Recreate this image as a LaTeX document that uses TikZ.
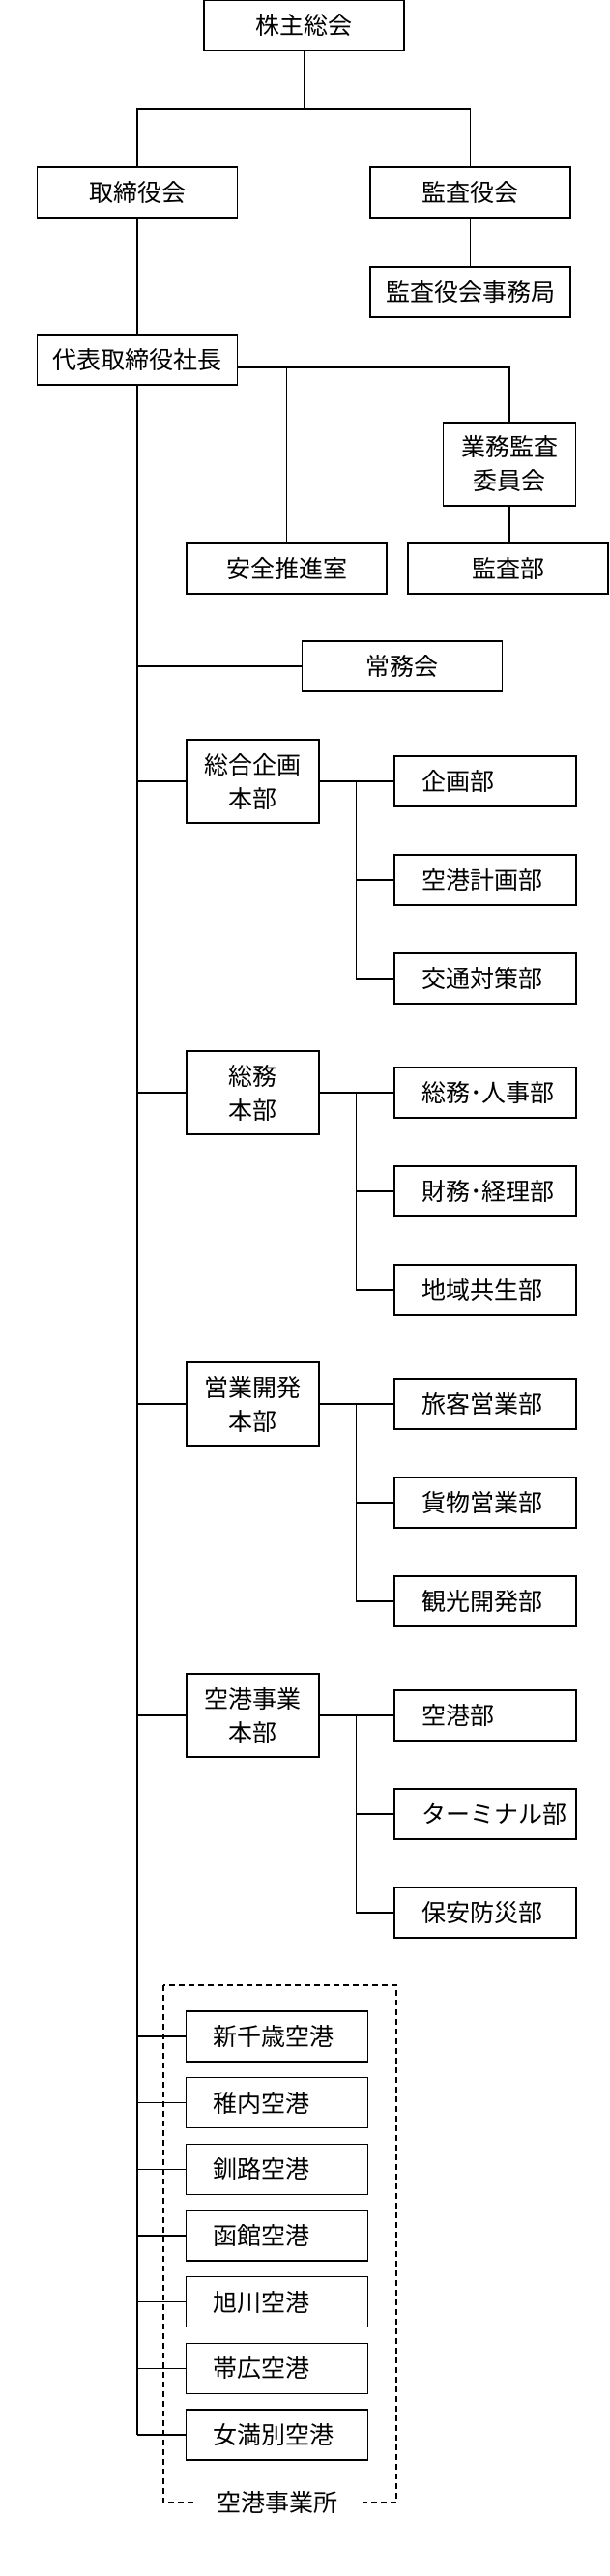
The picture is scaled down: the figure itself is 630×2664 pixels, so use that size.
\documentclass[tikz,border=0pt]{standalone}
\usepackage{fontspec}
\setmainfont{Noto Sans CJK JP}
\tikzset{
  box/.style={draw, line width=1.4pt, inner sep=0pt, minimum height=52pt, font=\fontsize{25}{35}\selectfont},
  topbox/.style={box, minimum width=207pt},
  hbox/.style={box, minimum width=137pt, minimum height=86pt, align=center},
  kobox/.style={box, text width=132pt, inner xsep=28pt, align=left},
  conn/.style={line width=1.4pt},
  jigyo/.style={draw, line width=1.2pt, dash pattern=on 6pt off 4pt}
}
\NewDocumentCommand{\honbu}{mmmmmm}{%
\begin{scope}[shift={(0,#2)}]%
\node[hbox] (h#1) at (261.5,0) {#3};
\node[kobox] (h#1a) at (502,0) {#4};
\node[kobox] (h#1b) at (502,102) {#5};
\node[kobox] (h#1c) at (502,204) {#6};
\draw[conn] (shacho.south |- h#1.west) -- (h#1.west);
\draw[conn] (h#1.east) -- (h#1a.west);
\draw[conn] ([xshift=-39pt]h#1a.west) |- (h#1c.west);
\draw[conn] ([xshift=-39pt]h#1b.west) -- (h#1b.west);
\end{scope}%
}

\begin{document}
\begin{tikzpicture}[x=1pt,y=-1pt]
        \useasboundingbox (0,0) rectangle (630,2664);

        % top
        \node[topbox] (kabunushi) at (314.5,26.5) {株主総会};
        \node[topbox] (torishimari) at (142,199) {取締役会};
        \node[topbox] (kansayaku) at (486.5,199) {監査役会};
        \node[topbox] (kjimu) at (486.5,302) {監査役会事務局};
        \coordinate (kb) at (314.5,113);
        \draw[conn] (kabunushi) -- (kb);
        \draw[conn] (torishimari.north) |- (kb) -| (kansayaku.north);
        \draw[conn] (kansayaku) -- (kjimu);

        % shacho
        \node[topbox] (shacho) at (142,372) {代表取締役社長};
        \draw[conn] (torishimari) -- (shacho);
        \node[hbox] (gyomu) at (527,480) {業務監査\\委員会};
        \node[topbox] (anzen) at (296.5,588) {安全推進室};
        \node[topbox] (kansabu) at (525.5,588) {監査部};
        \draw[conn] ([yshift=-8pt]shacho.east) -| (gyomu.north);
        \draw[conn] (anzen.north) -- ([yshift=-8pt]anzen.north |- shacho.east);
        \draw[conn] (gyomu.south) -- (gyomu.south |- kansabu.north);
        \node[topbox] (joumu) at (416,689) {常務会};
        \draw[conn] (shacho.south |- joumu.west) -- (joumu.west);

        % honbu
        \honbu{1}{808}{総合企画\\本部}{企画部}{空港計画部}{交通対策部}
        \honbu{2}{1130}{総務\\本部}{総務･人事部}{財務･経理部}{地域共生部}
        \honbu{3}{1452}{営業開発\\本部}{旅客営業部}{貨物営業部}{観光開発部}
        \honbu{4}{1774}{空港事業\\本部}{空港部}{ターミナル部}{保安防災部}

        % kuko jigyosho
        \draw[jigyo] (169,2053) rectangle (410,2588);
        \node[fill=white, inner xsep=25pt, inner ysep=2pt, font=\fontsize{25}{35}\selectfont] (jigyosho) at (287,2588) {空港事業所};
        \foreach \n/\ap in {1/新千歳空港,2/稚内空港,3/釧路空港,4/函館空港,5/旭川空港,6/帯広空港,7/女満別空港} {
          \node[kobox] (ap\n) at (286.5,{2037.33+68.67*\n}) {\ap};
          \draw[conn] (shacho.south |- ap\n.west) -- (ap\n.west);
        }
        \draw[conn] (shacho.south) -- (shacho.south |- ap7.west);
    \end{tikzpicture}
\end{document}
